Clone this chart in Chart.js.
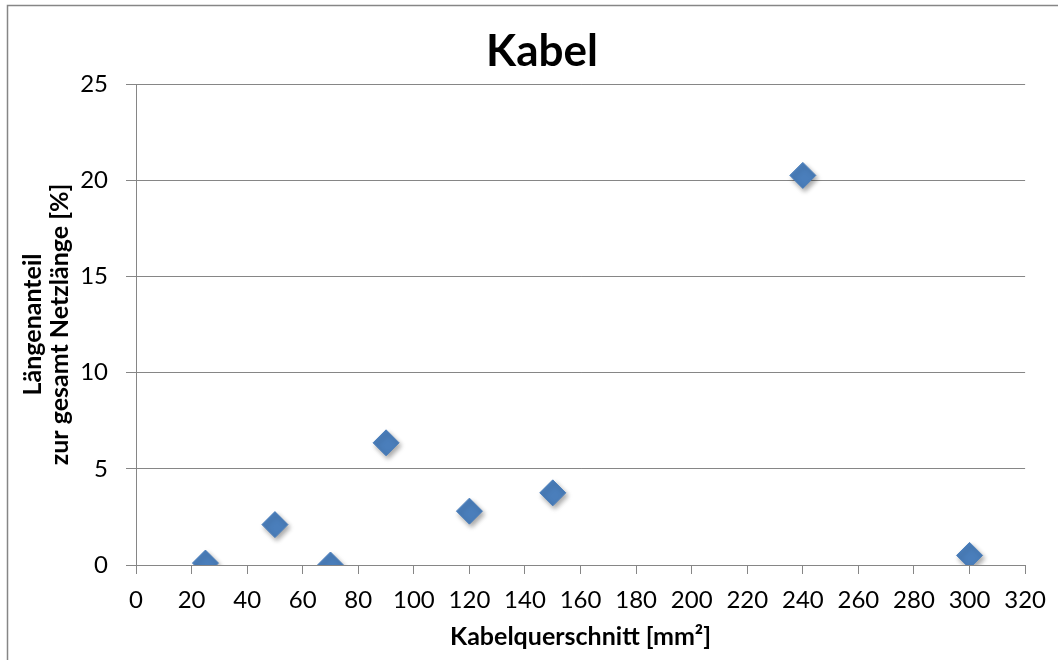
<!DOCTYPE html>
<html>
<head>
<meta charset="utf-8">
<script src="https://cdn.jsdelivr.net/npm/chart.js@4"></script>
<style>
  html, body { margin: 0; padding: 0; background: #ffffff; }
  #wrap { position: relative; width: 1058px; height: 660px; }
</style>
</head>
<body>
<div id="wrap"><canvas id="kabelChart" width="1058" height="660"></canvas></div>
<script>
// Kabel - Längenanteil je Kabelquerschnitt

Chart.defaults.font.family = 'Lato, sans-serif';
Chart.defaults.color = '#000000';

// Daten
const querschnitt = [25, 50, 70, 90, 120, 150, 240, 300];          // mm²
const laengenanteil = [0.1, 2.1, 0.0, 6.35, 2.8, 3.75, 20.25, 0.5]; // %

const xTicks = { min: 0, max: 320, step: 20 };
const yTicks = { min: 0, max: 25, step: 5 };

const titel = 'Kabel';

const punkte = querschnitt.map((x, i) => ({ x: x, y: laengenanteil[i] }));

const grau = '#868686';

// Rahmen um das ganze Diagramm + Titel (Excel zentriert ihn auf den ganzen Rahmen)
const rahmen = {
    id: 'rahmen',
    beforeDraw(chart) {
        const ctx = chart.ctx;
        ctx.save();
        ctx.strokeStyle = grau;
        ctx.lineWidth = 1.5;
        ctx.strokeRect(7.5, 5.5, 2000, 2000);
        ctx.restore();
    },
    afterDraw(chart) {
        const ctx = chart.ctx;
        ctx.save();
        ctx.font = 'bold 44px Lato, sans-serif';
        ctx.fillStyle = '#000000';
        ctx.textAlign = 'center';
        ctx.textBaseline = 'alphabetic';
        ctx.fillText(titel, 542, 66);
        ctx.restore();
    }
};

// Schatten unter den Markern
const schatten = {
    id: 'schatten',
    beforeDatasetsDraw(chart) {
        const ctx = chart.ctx;
        ctx.save();
        ctx.shadowColor = 'rgba(0, 0, 0, 0.35)';
        ctx.shadowBlur = 5;
        ctx.shadowOffsetX = 2;
        ctx.shadowOffsetY = 3;
    },
    afterDatasetsDraw(chart) {
        chart.ctx.restore();
    }
};

new Chart(document.getElementById('kabelChart'), {
    type: 'scatter',
    data: {
        datasets: [{
            label: titel,
            data: punkte,
            pointStyle: 'rectRot',
            pointRadius: 13,
            pointHoverRadius: 13,
            backgroundColor: '#4a7ebb',
            borderColor: '#4a7ebb',
            borderWidth: 1
        }]
    },
    options: {
        responsive: false,
        animation: false,
        layout: {
            padding: { left: 0, right: 31, top: 84, bottom: 0 }
        },
        plugins: {
            legend: { display: false },
            tooltip: { enabled: false },
            title: { display: false }
        },
        scales: {
            x: {
                type: 'linear',
                min: xTicks.min,
                max: xTicks.max,
                afterFit(scale) { scale.height = 95; },
                border: { display: true, color: grau, width: 1 },
                grid: {
                    drawOnChartArea: false,
                    drawTicks: true,
                    tickLength: 9,
                    color: grau
                },
                ticks: {
                    stepSize: xTicks.step,
                    padding: 12,
                    maxRotation: 0,
                    color: '#000000',
                    font: { size: 24 }
                },
                title: {
                    display: true,
                    text: 'Kabelquerschnitt [mm²]',
                    color: '#000000',
                    font: { size: 25, weight: 'bold', lineHeight: 1.2 },
                    padding: { top: 0, bottom: 8 }
                }
            },
            y: {
                type: 'linear',
                min: yTicks.min,
                max: yTicks.max,
                afterFit(scale) { scale.width = 136; },
                border: { display: true, color: grau, width: 1 },
                grid: {
                    drawOnChartArea: true,
                    drawTicks: true,
                    tickLength: 10,
                    color: grau
                },
                ticks: {
                    stepSize: yTicks.step,
                    padding: 18,
                    color: '#000000',
                    font: { size: 24 }
                },
                title: {
                    display: true,
                    text: ['Längenanteil', 'zur gesamt Netzlänge [%]'],
                    color: '#000000',
                    font: { size: 25, weight: 'bold', lineHeight: 1.1 },
                    padding: { top: 19, bottom: 0 }
                }
            }
        }
    },
    plugins: [rahmen, schatten]
});
</script>
</body>
</html>
